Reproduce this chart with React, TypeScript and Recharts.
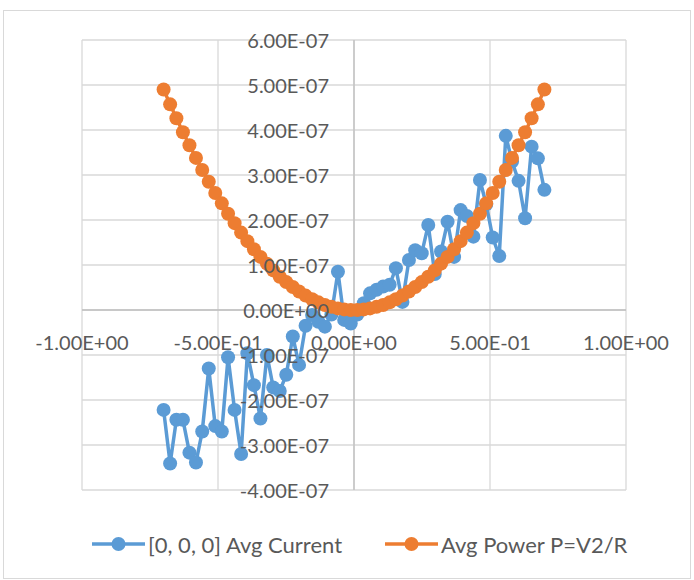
import React from "react";
import {
  CartesianGrid,
  Legend,
  ReferenceLine,
  Scatter,
  ScatterChart,
  XAxis,
  YAxis,
} from "recharts";

// Sweep voltages (V), shared by both series
const VOLTAGE = [
  -0.7, -0.676, -0.653, -0.629, -0.605, -0.581, -0.558, -0.534, -0.51, -0.486,
  -0.463, -0.439, -0.415, -0.392, -0.368, -0.344, -0.32, -0.297, -0.273, -0.249,
  -0.225, -0.202, -0.178, -0.154, -0.131, -0.107, -0.083, -0.059, -0.036, -0.012,
  0.012, 0.036, 0.059, 0.083, 0.107, 0.131, 0.154, 0.178, 0.202, 0.225,
  0.249, 0.273, 0.297, 0.32, 0.344, 0.368, 0.392, 0.415, 0.439, 0.463,
  0.486, 0.51, 0.534, 0.558, 0.581, 0.605, 0.629, 0.653, 0.676, 0.7,
];

// [0, 0, 0] averaged current
const AVG_CURRENT = [
  -2.22e-7, -3.41e-7, -2.44e-7, -2.44e-7, -3.17e-7, -3.39e-7, -2.7e-7, -1.3e-7, -2.58e-7, -2.7e-7,
  -1.05e-7, -2.22e-7, -3.2e-7, -0.96e-7, -1.67e-7, -2.41e-7, -1.0e-7, -1.72e-7, -1.8e-7, -1.44e-7,
  -0.59e-7, -1.22e-7, -0.35e-7, -0.11e-7, -0.26e-7, -0.37e-7, -0.1e-7, 0.85e-7, -0.22e-7, -0.3e-7,
  -0.1e-7, 0.15e-7, 0.37e-7, 0.45e-7, 0.52e-7, 0.56e-7, 0.93e-7, 0.18e-7, 1.11e-7, 1.33e-7,
  1.26e-7, 1.89e-7, 0.8e-7, 1.3e-7, 1.96e-7, 1.18e-7, 2.22e-7, 2.09e-7, 1.63e-7, 2.89e-7,
  2.35e-7, 1.61e-7, 1.2e-7, 3.87e-7, 3.3e-7, 2.87e-7, 2.04e-7, 3.63e-7, 3.37e-7, 2.67e-7,
];

// Average power P = V^2 / R
const AVG_POWER = [
  4.9e-7, 4.57e-7, 4.26e-7, 3.95e-7, 3.66e-7, 3.38e-7, 3.11e-7, 2.85e-7, 2.6e-7, 2.37e-7,
  2.14e-7, 1.93e-7, 1.72e-7, 1.53e-7, 1.35e-7, 1.18e-7, 1.03e-7, 0.88e-7, 0.74e-7, 0.62e-7,
  0.51e-7, 0.41e-7, 0.32e-7, 0.24e-7, 0.17e-7, 0.11e-7, 0.07e-7, 0.035e-7, 0.013e-7, 0.001e-7,
  0.001e-7, 0.013e-7, 0.035e-7, 0.07e-7, 0.11e-7, 0.17e-7, 0.24e-7, 0.32e-7, 0.41e-7, 0.51e-7,
  0.62e-7, 0.74e-7, 0.88e-7, 1.03e-7, 1.18e-7, 1.35e-7, 1.53e-7, 1.72e-7, 1.93e-7, 2.14e-7,
  2.37e-7, 2.6e-7, 2.85e-7, 3.11e-7, 3.38e-7, 3.66e-7, 3.95e-7, 4.26e-7, 4.57e-7, 4.9e-7,
];

const X_TICKS = [-1, -0.5, 0, 0.5, 1];
const Y_TICKS = [-4e-7, -3e-7, -2e-7, -1e-7, 0, 1e-7, 2e-7, 3e-7, 4e-7, 5e-7, 6e-7];

const SERIES_NAMES = ["[0, 0, 0] Avg Current", "Avg Power P=V2/R"];

const BLUE = "#5B9BD5";
const ORANGE = "#ED7D31";
const SERIES_COLORS = [BLUE, ORANGE];
const TEXT = "#595959";
const FONT = "Lato, 'Open Sans', sans-serif";

const W = 694;
const H = 580;
// axes get 1px of room so Recharts still renders their tick labels
const MARGIN = { top: 40, right: 68, bottom: 59, left: 81 };
const LEGEND_H = 30;
const X_DOMAIN: [number, number] = [-1, 1];
const Y_DOMAIN: [number, number] = [-4e-7, 6e-7];

// pixel position of the zero lines, where the axes cross
const PLOT_LEFT = MARGIN.left + 1;
const PLOT_W = W - PLOT_LEFT - MARGIN.right;
const PLOT_H = H - MARGIN.top - MARGIN.bottom - 1 - LEGEND_H;
const ZERO_X = PLOT_LEFT + (PLOT_W * (0 - X_DOMAIN[0])) / (X_DOMAIN[1] - X_DOMAIN[0]);
const ZERO_Y = MARGIN.top + (PLOT_H * Y_DOMAIN[1]) / (Y_DOMAIN[1] - Y_DOMAIN[0]);

const currentData = VOLTAGE.map((x, i) => ({ x, y: AVG_CURRENT[i] }));
const powerData = VOLTAGE.map((x, i) => ({ x, y: AVG_POWER[i] }));

// Excel-style scientific label: 6.00E-07
function sci(v: number) {
  const [m, e] = v.toExponential(2).split("e");
  const sign = e[0] === "-" ? "-" : "+";
  return `${m}E${sign}${e.replace(/^[+-]/, "").padStart(2, "0")}`;
}

function XTick(props: any) {
  return (
    <text
      x={props.x}
      y={ZERO_Y + 32}
      textAnchor="middle"
      dominantBaseline="central"
      fill={TEXT}
      fontSize={20}
      fontFamily={FONT}
    >
      {sci(props.payload.value)}
    </text>
  );
}

function YTick(props: any) {
  return (
    <text
      x={ZERO_X - 25}
      y={props.y}
      textAnchor="end"
      dominantBaseline="central"
      fill={TEXT}
      fontSize={20}
      fontFamily={FONT}
    >
      {sci(props.payload.value)}
    </text>
  );
}

const dot = (color: string) => (props: any) =>
  <circle cx={props.cx} cy={props.cy} r={7} fill={color} />;

const LEGEND_X = [92, 385];

function LegendRow() {
  return (
    <div style={{ position: "relative", height: LEGEND_H }}>
      {SERIES_NAMES.map((name, i) => (
        <div
          key={name}
          style={{
            position: "absolute",
            left: LEGEND_X[i],
            top: 0,
            height: LEGEND_H,
            display: "flex",
            alignItems: "center",
            gap: 3,
            whiteSpace: "nowrap",
          }}
        >
          <svg width={53} height={16}>
            <line x1={0} y1={8} x2={53} y2={8} stroke={SERIES_COLORS[i]} strokeWidth={3.5} />
            <circle cx={26.5} cy={8} r={7} fill={SERIES_COLORS[i]} />
          </svg>
          <span style={{ color: TEXT, fontSize: 22, fontFamily: FONT }}>{name}</span>
        </div>
      ))}
    </div>
  );
}

export default function App() {
  return (
    <div style={{ position: "absolute", left: 0, top: 0, width: W, height: H, background: "#fff" }}>
      <div
        style={{
          position: "absolute",
          left: 3,
          top: 10,
          width: 688,
          height: 569,
          border: "1px solid #d9d9d9",
          boxSizing: "border-box",
        }}
      />
      <div style={{ position: "absolute", left: 0, top: 0 }}>
        <ScatterChart width={W} height={H} margin={MARGIN}>
          <CartesianGrid stroke="#d9d9d9" strokeWidth={1.3} />
          <XAxis
            type="number"
            dataKey="x"
            domain={X_DOMAIN}
            ticks={X_TICKS}
            interval={0}
            height={1}
            axisLine={false}
            tickLine={false}
            tick={<XTick />}
          />
          <YAxis
            type="number"
            dataKey="y"
            domain={Y_DOMAIN}
            ticks={Y_TICKS}
            interval={0}
            width={1}
            axisLine={false}
            tickLine={false}
            tick={<YTick />}
          />
          <ReferenceLine y={0} stroke="#bfbfbf" strokeWidth={1.3} />
          <ReferenceLine x={0} stroke="#bfbfbf" strokeWidth={1.3} />
          <Scatter
            name={SERIES_NAMES[0]}
            data={currentData}
            fill={BLUE}
            line={{ stroke: BLUE, strokeWidth: 3.5 }}
            shape={dot(BLUE)}
            isAnimationActive={false}
          />
          <Scatter
            name={SERIES_NAMES[1]}
            data={powerData}
            fill={ORANGE}
            line={{ stroke: ORANGE, strokeWidth: 3.5 }}
            shape={dot(ORANGE)}
            isAnimationActive={false}
          />
          <Legend
            verticalAlign="bottom"
            content={<LegendRow />}
            wrapperStyle={{ left: 0, width: W, height: LEGEND_H, top: 529, bottom: "auto" }}
          />
        </ScatterChart>
      </div>
    </div>
  );
}
